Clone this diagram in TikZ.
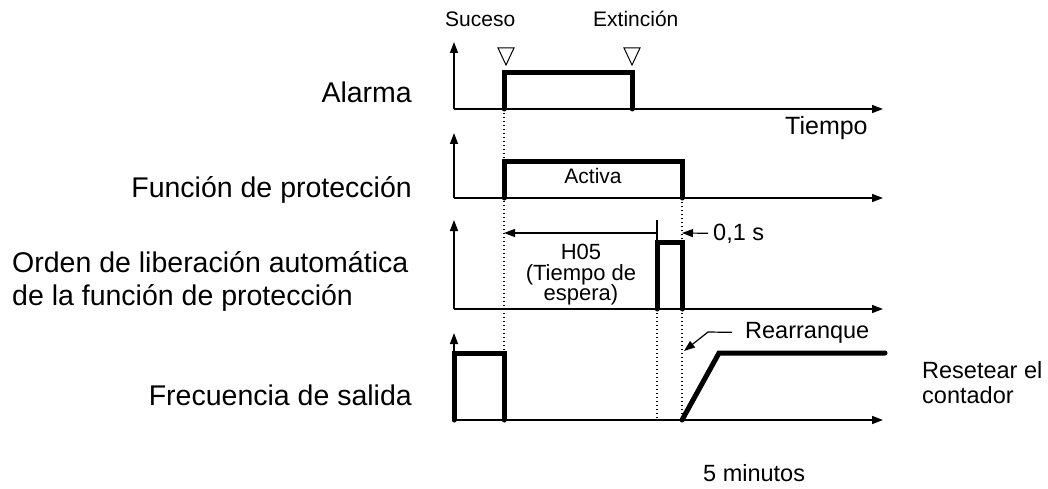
\documentclass[tikz,border=0pt]{standalone}
\usepackage{fontspec}
\setmainfont{Liberation Sans}
\usetikzlibrary{arrows.meta}

\begin{document}
\begin{tikzpicture}[x=1pt,y=-1pt,
  axis/.style={line width=1.5pt,-{Triangle[length=11pt,width=8pt]}},
  sig/.style={line width=5pt,line cap=round,line join=miter},
  guide/.style={line width=1.2pt,dash pattern=on 1.2pt off 2.8pt},
  thinarr/.style={line width=1.2pt,-{Triangle[length=11pt,width=8pt]}},
  biglbl/.style={font=\fontsize{28.5}{34}\selectfont,inner sep=0pt},
  midlbl/.style={font=\fontsize{23.5}{26}\selectfont,inner sep=0pt},
  smalllbl/.style={font=\fontsize{21}{24}\selectfont,inner sep=0pt}]
  \useasboundingbox (0,0) rectangle (1048,489);
  \foreach \y/\yt in {109/42,198/133,309/220,420/333} {
    \draw[axis] (454,\y) -- (883,\y);
    \draw[axis] (454,\y) -- (454,\yt);
  }
  \draw[guide] (504,109) -- (504,353);
  \draw[guide] (682,198) -- (682,242);
  \draw[guide] (682,309) -- (682,420);
  \draw[guide] (657,309) -- (657,420);
  \draw[sig] (504,109) -- (504,73) -- (632,73) -- (632,109);
  \draw[sig] (504,198) -- (504,162) -- (682,162) -- (682,198);
  \draw[sig] (657,309) -- (657,242) -- (682,242) -- (682,309);
  \draw[sig] (454,420) -- (454,353) -- (504,353) -- (504,420);
  \draw[sig] (682,420) -- (719,353) -- (885,353);
  \foreach \x in {506,632}
    \draw[line width=1pt] (\x-8,48) -- (\x+8,48) -- (\x,65) -- cycle;
  \node[biglbl,anchor=base east] (alarma) at (412,103) {Alarma};
  \node[biglbl,anchor=base east] (funcion) at (412,197) {Función de protección};
  \node[biglbl,anchor=base west] (ordenA) at (12,272) {Orden de liberación automática};
  \node[biglbl,anchor=base west] (ordenB) at (12,305) {de la función de protección};
  \node[biglbl,anchor=base east] (frec) at (412,405) {Frecuencia de salida};
  \node[smalllbl,anchor=base west] (suceso) at (445,27) {Suceso};
  \node[smalllbl,anchor=base west] (extincion) at (593,27) {Extinción};
  \node[font=\fontsize{25}{28}\selectfont,inner sep=0pt,anchor=base west] (tiempo) at (785,135) {Tiempo};
  \node[smalllbl,anchor=base] (activa) at (593,183) {Activa};
  \coordinate (h05L) at (504,233);
  \coordinate (h05R) at (657,233);
  \draw[line width=1.2pt] (657,220) -- (657,242);
  \draw[thinarr,{Triangle[length=11pt,width=8pt]}-] (h05L) -- (h05R);
  \node[font=\fontsize{22}{24}\selectfont,inner sep=0pt,anchor=base] (h05a) at (581,259) {H05};
  \node[font=\fontsize{22}{24}\selectfont,inner sep=0pt,anchor=base] (h05b) at (581,280) {(Tiempo de};
  \node[font=\fontsize{22}{24}\selectfont,inner sep=0pt,anchor=base] (h05c) at (581,300) {espera)};
  \node[midlbl,anchor=base west] (delta) at (713,240) {0,1 s};
  \coordinate (deltaTip) at (682,233);
  \draw[thinarr,shorten <=5pt] (delta.west) -- (deltaTip);
  \node[midlbl,anchor=base west] (rearr) at (745,338) {Rearranque};
  \coordinate (rbend) at (708,332);
  \coordinate (rtip) at (684,351);
  \draw[thinarr] (rearr.west) ++(-13,0) -- (rbend) -- (rtip);
  \node[midlbl,anchor=base west] (resetA) at (922,378) {Resetear el};
  \node[midlbl,anchor=base west] (resetB) at (922,403) {contador};
  \node[midlbl,anchor=base west] (fivemin) at (703,481) {5 minutos};
\end{tikzpicture}
\end{document}
